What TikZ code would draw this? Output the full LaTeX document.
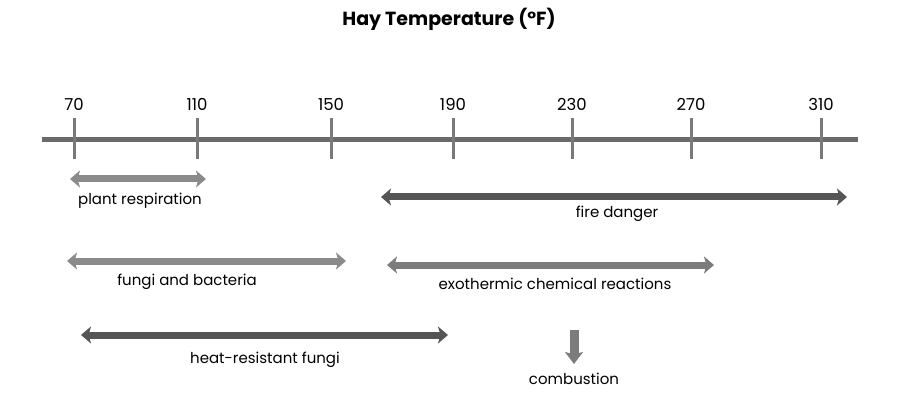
\documentclass[tikz,border=0pt]{standalone}
\usepackage{fontspec}
\setmainfont{Poppins}
\usetikzlibrary{arrows.meta}
\definecolor{axisgray}{HTML}{6A6A6A}
\definecolor{tickgray}{HTML}{7A7A7A}
\definecolor{midgray}{HTML}{8A8A8A}
\definecolor{mid2gray}{HTML}{7C7C7C}
\definecolor{darkgray2}{HTML}{555555}
\tikzset{
  lbl/.style={font=\fontsize{15}{17}\selectfont, text=black, inner sep=0pt},
  ticklbl/.style={font=\fontsize{16.5}{18}\selectfont, text=black, inner sep=0pt},
  span/.style={line width=7pt, {Stealth[length=10pt,width=17pt,inset=2.5pt]}-{Stealth[length=10pt,width=17pt,inset=2.5pt]}},
  tickline/.style={tickgray, line width=3pt},
}
\begin{document}
\begin{tikzpicture}[x=1pt,y=-1pt]
\useasboundingbox (0,0) rectangle (903,417);
\node[font=\bfseries\fontsize{19}{21}\selectfont, inner sep=0pt] (title) at (449,19) {Hay Temperature (°F)};
% axis
\coordinate (axL) at (42,140);
\coordinate (axR) at (858,140);
\draw[axisgray, line width=5pt] (axL) -- (axR);
\foreach \n/\x in {70/74,110/197,150/331,190/453,230/572,270/691,310/821}{
  \coordinate (t\n a) at (\x,118);
  \coordinate (t\n b) at (\x,159);
  \draw[tickline] (t\n a) -- (t\n b);
  \node[ticklbl] (l\n) at (\x,104) {\n};
}
% plant respiration
\coordinate (pr1) at (70,179);
\coordinate (pr2) at (206,179);
\draw[span, midgray] (pr1) -- (pr2);
\node[lbl] (prl) at (140,201) {plant respiration};
% fungi and bacteria
\coordinate (fb1) at (67,261);
\coordinate (fb2) at (346,261);
\draw[span, midgray] (fb1) -- (fb2);
\node[lbl] (fbl) at (187,282) {fungi and bacteria};
% fire danger
\coordinate (fd1) at (381,197);
\coordinate (fd2) at (847,197);
\draw[span, darkgray2] (fd1) -- (fd2);
\node[lbl] (fdl) at (617,214) {fire danger};
% exothermic
\coordinate (ex1) at (387,265);
\coordinate (ex2) at (714,265);
\draw[span, mid2gray] (ex1) -- (ex2);
\node[lbl] (exl) at (555,284) {exothermic chemical reactions};
% heat-resistant fungi
\coordinate (hr1) at (81,335);
\coordinate (hr2) at (448,335);
\draw[span, darkgray2] (hr1) -- (hr2);
\node[lbl] (hrl) at (265,360) {heat-resistant fungi};
% combustion
\coordinate (cb1) at (574,330);
\coordinate (cb2) at (574,364);
\draw[mid2gray, line width=9pt, -{Stealth[length=12pt,width=18pt,inset=2.5pt]}] (cb1) -- (cb2);
\node[lbl] (cbl) at (574,379) {combustion};
\end{tikzpicture}
\end{document}
